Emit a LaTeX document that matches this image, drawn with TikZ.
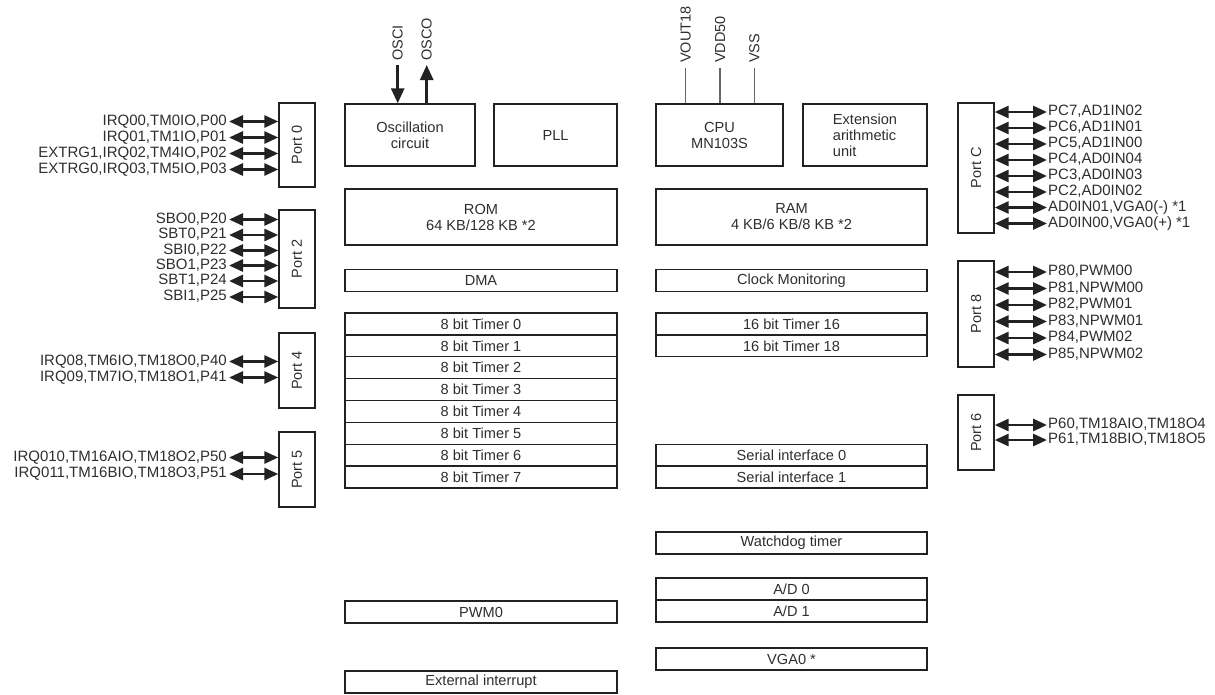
\documentclass[tikz,border=0pt]{standalone}
\usepackage{fontspec}
\setmainfont{Liberation Sans}
\usetikzlibrary{arrows.meta}
\definecolor{ink}{HTML}{222222}
\definecolor{txt}{HTML}{2E2E2E}
\definecolor{pwr}{HTML}{666666}
\newcommand\lpin[4]{\node[pinl] (#1) at (227,#2) {#3};
  \draw[dbl] ([xshift=2pt]#1.east) -- (#1 -| #4.west);}
\newcommand\rpin[4]{\node[pinr] (#1) at (1048,#2) {#3};
  \draw[dbl] (#1 -| #4.east) -- ([xshift=-1pt]#1.west);}
\begin{document}
\begin{tikzpicture}[x=1pt,y=-1pt,
  blk/.style={draw=ink,line width=1.4pt,inner sep=0pt,text=txt,
    font=\fontsize{14.6}{16}\selectfont,align=center},
  port/.style={draw=ink,line width=1.4pt,inner sep=0pt,minimum width=36pt},
  portlbl/.style={rotate=90,text=txt,font=\fontsize{14.5}{16}\selectfont,inner sep=0pt},
  pinl/.style={anchor=east,inner sep=0pt,text=txt,font=\fontsize{15}{16}\selectfont,
    text height=0.72em,text depth=0pt},
  pinr/.style={anchor=west,inner sep=0pt,text=txt,font=\fontsize{15}{16}\selectfont,
    text height=0.72em,text depth=0pt},
  toplbl/.style={rotate=90,anchor=west,inner sep=0pt,text=txt,
    font=\fontsize{14.5}{16}\selectfont},
  dbl/.style={draw=ink,line width=2.8pt,
    {Triangle[length=14pt,width=12pt]}-{Triangle[length=14pt,width=12pt]}},
  osc/.style={draw=ink,line width=2.7pt},
  pwrline/.style={draw=pwr,line width=1.3pt}]
\useasboundingbox (0,0) rectangle (1215,694);

% ---- top row ----
\node[blk,minimum width=130pt,minimum height=62pt] (oscb) at (410,135) {Oscillation\\circuit};
\node[blk,minimum width=123pt,minimum height=62pt] (pll) at (555.5,135) {PLL};
\node[blk,minimum width=127pt,minimum height=62pt] (cpu) at (719.5,135) {CPU\\MN103S};
\node[blk,minimum width=124pt,minimum height=62pt,align=left] (ext) at (865,135) {Extension\\arithmetic\\unit};

% OSCI / OSCO
\node[toplbl] (osci) at (397.7,61) {OSCI};
\node[toplbl] (osco) at (426.7,61) {OSCO};
\coordinate (oscitop) at (397.7,65);
\coordinate (oscotop) at (426.7,65);
\draw[osc,-{Triangle[length=15pt,width=13pt]}] (oscitop) -- (oscitop |- oscb.north);
\draw[osc,-{Triangle[length=15pt,width=13pt]}] (oscotop |- oscb.north) -- (oscotop);

% power pins
\node[toplbl] (vout) at (685.7,63) {VOUT18};
\node[toplbl] (vdd) at (720,63) {VDD50};
\node[toplbl] (vss) at (754.3,63) {VSS};
\coordinate (voutc) at (685.7,68);
\coordinate (vddc) at (720,68);
\coordinate (vssc) at (754.3,68);
\draw[pwrline] (voutc) -- (voutc |- cpu.north);
\draw[pwrline] (vddc) -- (vddc |- cpu.north);
\draw[pwrline] (vssc) -- (vssc |- cpu.north);

% ---- memory ----
\node[blk,minimum width=272pt,minimum height=56pt] (rom) at (481,217) {ROM\\64 KB/128 KB *2};
\node[blk,minimum width=271pt,minimum height=56pt] (ram) at (791.5,217) {RAM\\4 KB/6 KB/8 KB *2};
\node[blk,minimum width=272pt,minimum height=22.5pt] (dma) at (481,280.5) {DMA};
\node[blk,minimum width=271pt,minimum height=22.5pt] (clk) at (791.5,280.5) {Clock Monitoring};

% ---- timers ----
\foreach \i in {0,...,7}{
  \node[blk,minimum width=272pt,minimum height=21.875pt] (t\i) at (481,{313+21.875*\i+10.9375}) {8 bit Timer \i};
}
\node[blk,minimum width=271pt,minimum height=21.875pt] (t16) at (791.5,323.94) {16 bit Timer 16};
\node[blk,minimum width=271pt,minimum height=21.875pt] (t18) at (791.5,345.81) {16 bit Timer 18};
\node[blk,minimum width=271pt,minimum height=21.875pt] (si0) at (791.5,455.19) {Serial interface 0};
\node[blk,minimum width=271pt,minimum height=21.875pt] (si1) at (791.5,477.06) {Serial interface 1};

% ---- bottom ----
\node[blk,minimum width=271pt,minimum height=22pt] (wdt) at (791.5,543) {Watchdog timer};
\node[blk,minimum width=271pt,minimum height=22pt] (ad0) at (791.5,589) {A/D 0};
\node[blk,minimum width=271pt,minimum height=22pt] (ad1) at (791.5,611) {A/D 1};
\node[blk,minimum width=272pt,minimum height=22pt] (pwm) at (481,612) {PWM0};
\node[blk,minimum width=271pt,minimum height=22pt] (vga) at (791.5,659) {VGA0 *};
\node[blk,minimum width=272pt,minimum height=22pt] (exti) at (481,682) {External interrupt};

% ---- left ports ----
\node[port,minimum height=84pt] (p0) at (297,145) {};
\node[portlbl] (p0l) at (p0.center) {Port 0};
\node[port,minimum height=98pt] (p2) at (297,259) {};
\node[portlbl] (p2l) at (p2.center) {Port 2};
\node[port,minimum height=75pt] (p4) at (297,370.5) {};
\node[portlbl] (p4l) at (p4.center) {Port 4};
\node[port,minimum height=75pt] (p5) at (297,469.5) {};
\node[portlbl] (p5l) at (p5.center) {Port 5};

\lpin{a0}{121.5}{IRQ00,TM0IO,P00}{p0}
\lpin{a1}{137.5}{IRQ01,TM1IO,P01}{p0}
\lpin{a2}{153.5}{EXTRG1,IRQ02,TM4IO,P02}{p0}
\lpin{a3}{169.5}{EXTRG0,IRQ03,TM5IO,P03}{p0}

\lpin{b0}{219.5}{SBO0,P20}{p2}
\lpin{b1}{235}{SBT0,P21}{p2}
\lpin{b2}{250.5}{SBI0,P22}{p2}
\lpin{b3}{265.5}{SBO1,P23}{p2}
\lpin{b4}{281}{SBT1,P24}{p2}
\lpin{b5}{297}{SBI1,P25}{p2}

\lpin{c0}{361.5}{IRQ08,TM6IO,TM18O0,P40}{p4}
\lpin{c1}{377.5}{IRQ09,TM7IO,TM18O1,P41}{p4}

\lpin{d0}{457.5}{IRQ010,TM16AIO,TM18O2,P50}{p5}
\lpin{d1}{474}{IRQ011,TM16BIO,TM18O3,P51}{p5}

% ---- right ports ----
\node[port,minimum height=130pt] (pc) at (976,168) {};
\node[portlbl] (pcl) at (pc.center) {Port C};
\node[port,minimum height=106pt] (p8) at (976,314) {};
\node[portlbl] (p8l) at (p8.center) {Port 8};
\node[port,minimum height=75pt] (p6) at (976,432.5) {};
\node[portlbl] (p6l) at (p6.center) {Port 6};

\rpin{e0}{112}{PC7,AD1IN02}{pc}
\rpin{e1}{128}{PC6,AD1IN01}{pc}
\rpin{e2}{144}{PC5,AD1IN00}{pc}
\rpin{e3}{160}{PC4,AD0IN04}{pc}
\rpin{e4}{176}{PC3,AD0IN03}{pc}
\rpin{e5}{192}{PC2,AD0IN02}{pc}
\rpin{e6}{207.5}{AD0IN01,VGA0(-) *1}{pc}
\rpin{e7}{223.5}{AD0IN00,VGA0(+) *1}{pc}

\rpin{f0}{272}{P80,PWM00}{p8}
\rpin{f1}{288.5}{P81,NPWM00}{p8}
\rpin{f2}{305}{P82,PWM01}{p8}
\rpin{f3}{321.5}{P83,NPWM01}{p8}
\rpin{f4}{338}{P84,PWM02}{p8}
\rpin{f5}{354.5}{P85,NPWM02}{p8}

\rpin{g0}{425}{P60,TM18AIO,TM18O4}{p6}
\rpin{g1}{440}{P61,TM18BIO,TM18O5}{p6}
\end{tikzpicture}
\end{document}
